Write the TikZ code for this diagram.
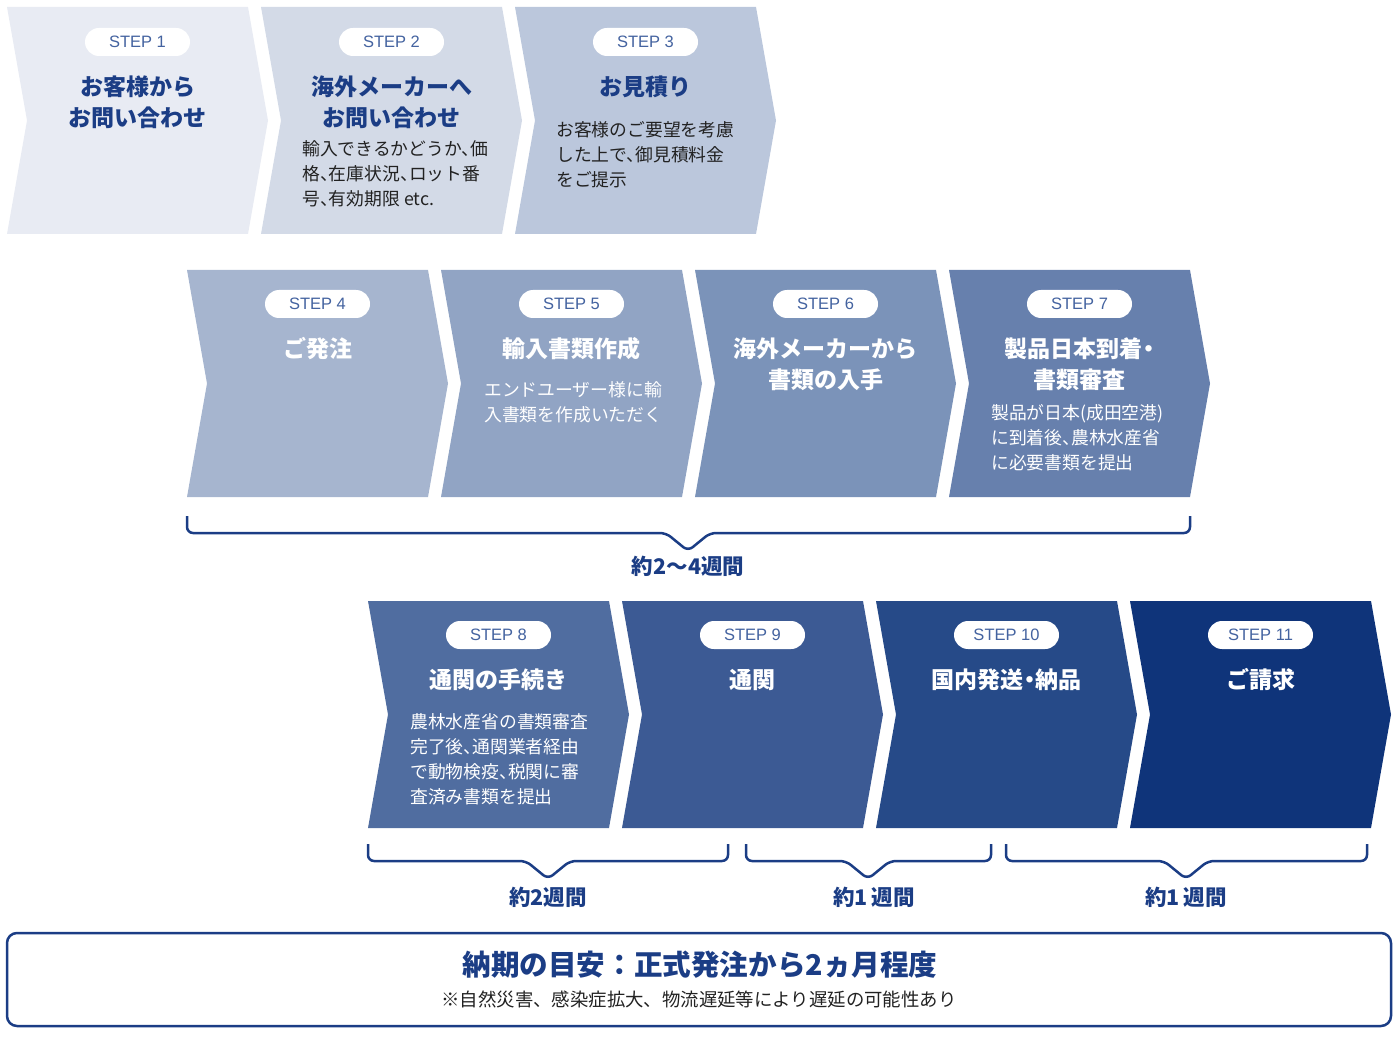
\documentclass[tikz,border=0pt]{standalone}
\usepackage{fontspec}
\setmainfont{Noto Sans CJK JP}[RawFeature=+halt]
\newfontfamily\jpfull{Noto Sans CJK JP}
\newfontfamily\stepfont{Liberation Sans}
\definecolor{c1}{HTML}{E8EBF3}
\definecolor{c2}{HTML}{D3DAE7}
\definecolor{c3}{HTML}{BBC7DC}
\definecolor{c4}{HTML}{A6B5CF}
\definecolor{c5}{HTML}{91A4C4}
\definecolor{c6}{HTML}{7B93B9}
\definecolor{c7}{HTML}{6780AD}
\definecolor{c8}{HTML}{506DA0}
\definecolor{c9}{HTML}{3C5A94}
\definecolor{c10}{HTML}{264A88}
\definecolor{c11}{HTML}{0F347A}
\definecolor{navy}{HTML}{1B3D85}
\definecolor{stepc}{HTML}{4463A0}
\definecolor{ink}{HTML}{222222}
\begin{document}
\begin{tikzpicture}[x=1pt,y=-1pt,
  stepbox/.style={fill=white, rounded corners=14, minimum width=105, minimum height=28, inner sep=0, text=stepc, font=\stepfont\fontsize{16.5}{16.5}\selectfont},
  ttl/.style={font=\bfseries\fontsize{23}{31}\selectfont, align=center, inner sep=0},
  desc/.style={font=\fontsize{17.8}{25}\selectfont, align=left, anchor=west, inner sep=0},
  brc/.style={draw=navy, line width=2.5, rounded corners=6},
  wk/.style={font=\bfseries\fontsize{21.5}{21.5}\selectfont, text=navy, inner sep=0}]
\useasboundingbox (0,0) rectangle (1400,1040);
% row 1
\fill[c1] (7,7) -- ++(241,0) -- ++(20,113.5) -- ++(-20,113.5) -- ++(-241,0) -- ++(20,-113.5) -- cycle;
\fill[c2] (261,7) -- ++(241,0) -- ++(20,113.5) -- ++(-20,113.5) -- ++(-241,0) -- ++(20,-113.5) -- cycle;
\fill[c3] (515,7) -- ++(241,0) -- ++(20,113.5) -- ++(-20,113.5) -- ++(-241,0) -- ++(20,-113.5) -- cycle;
\node[stepbox] (p1) at (137.5,42) {STEP 1};
\node[stepbox] (p2) at (391.5,42) {STEP 2};
\node[stepbox] (p3) at (645.5,42) {STEP 3};
\node[ttl, text=navy] (t1) at (137.5,102.5) {お客様から\\お問い合わせ};
\node[ttl, text=navy] (t2) at (391.5,102.5) {海外メーカーへ\\お問い合わせ};
\node[ttl, text=navy] (t3) at (645.5,87) {お見積り};
\node[desc, text=ink] (d2) at (302,174) {輸入できるかどうか、価\\格、在庫状況、ロット番\\号、有効期限 etc.};
\node[desc, text=ink] (d3) at (556,155) {お客様のご要望を考慮\\した上で、御見積料金\\をご提示};
% row 2
\fill[c4] (187,270) -- ++(241,0) -- ++(20,113.5) -- ++(-20,113.5) -- ++(-241,0) -- ++(20,-113.5) -- cycle;
\fill[c5] (441,270) -- ++(241,0) -- ++(20,113.5) -- ++(-20,113.5) -- ++(-241,0) -- ++(20,-113.5) -- cycle;
\fill[c6] (695,270) -- ++(241,0) -- ++(20,113.5) -- ++(-20,113.5) -- ++(-241,0) -- ++(20,-113.5) -- cycle;
\fill[c7] (949,270) -- ++(241,0) -- ++(20,113.5) -- ++(-20,113.5) -- ++(-241,0) -- ++(20,-113.5) -- cycle;
\node[stepbox] (p4) at (317.5,304) {STEP 4};
\node[stepbox] (p5) at (571.5,304) {STEP 5};
\node[stepbox] (p6) at (825.5,304) {STEP 6};
\node[stepbox] (p7) at (1079.5,304) {STEP 7};
\node[ttl, text=white] (t4) at (317.5,349) {ご発注};
\node[ttl, text=white] (t5) at (571.5,349) {輸入書類作成};
\node[ttl, text=white] (t6) at (825.5,364.5) {海外メーカーから\\書類の入手};
\node[ttl, text=white] (t7) at (1079.5,364.5) {製品日本到着・\\書類審査};
\node[desc, text=white] (d5) at (484,402.5) {エンドユーザー様に輸\\入書類を作成いただく};
\node[desc, text=white] (d7) at (991,438) {製品が日本(成田空港)\\に到着後、農林水産省\\に必要書類を提出};
\draw[brc] (187,516) -- (187,533) -- (666,533) -- (688,551) -- (710,533) -- (1190,533) -- (1190,516);
\node[wk] (w1) at (688,566) {約2〜4週間};
% row 3
\fill[c8] (368,601) -- ++(241,0) -- ++(20,113.5) -- ++(-20,113.5) -- ++(-241,0) -- ++(20,-113.5) -- cycle;
\fill[c9] (622,601) -- ++(241,0) -- ++(20,113.5) -- ++(-20,113.5) -- ++(-241,0) -- ++(20,-113.5) -- cycle;
\fill[c10] (876,601) -- ++(241,0) -- ++(20,113.5) -- ++(-20,113.5) -- ++(-241,0) -- ++(20,-113.5) -- cycle;
\fill[c11] (1130,601) -- ++(241,0) -- ++(20,113.5) -- ++(-20,113.5) -- ++(-241,0) -- ++(20,-113.5) -- cycle;
\node[stepbox] (p8) at (498.5,635) {STEP 8};
\node[stepbox] (p9) at (752.5,635) {STEP 9};
\node[stepbox] (p10) at (1006.5,635) {STEP 10};
\node[stepbox] (p11) at (1260.5,635) {STEP 11};
\node[ttl, text=white] (t8) at (498.5,680) {通関の手続き};
\node[ttl, text=white] (t9) at (752.5,680) {通関};
\node[ttl, text=white] (t10) at (1006.5,680) {国内発送・納品};
\node[ttl, text=white] (t11) at (1260.5,680) {ご請求};
\node[desc, text=white] (d8) at (410,759.5) {農林水産省の書類審査\\完了後、通関業者経由\\で動物検疫、税関に審\\査済み書類を提出};
\draw[brc] (368,844) -- (368,861) -- (526,861) -- (548,879) -- (570,861) -- (728,861) -- (728,844);
\draw[brc] (746,844) -- (746,861) -- (846,861) -- (868,879) -- (890,861) -- (991,861) -- (991,844);
\draw[brc] (1006,844) -- (1006,861) -- (1164,861) -- (1186,879) -- (1208,861) -- (1367,861) -- (1367,844);
\node[wk] (w2) at (548,897) {約2週間};
\node[wk] (w3) at (874,897) {約1\,週間};
\node[wk] (w4) at (1186,897) {約1\,週間};
% bottom box
\draw[navy, line width=2.5, rounded corners=10] (7,933) rectangle (1391,1026);
\node[font=\jpfull\bfseries\fontsize{28.6}{28.6}\selectfont, text=navy, inner sep=0] (goal) at (700,965) {納期の目安：正式発注から2ヵ月程度};
\node[font=\jpfull\fontsize{18.4}{18.4}\selectfont, text=ink, inner sep=0] (note) at (699,999) {※自然災害、感染症拡大、物流遅延等により遅延の可能性あり};
\end{tikzpicture}
\end{document}
